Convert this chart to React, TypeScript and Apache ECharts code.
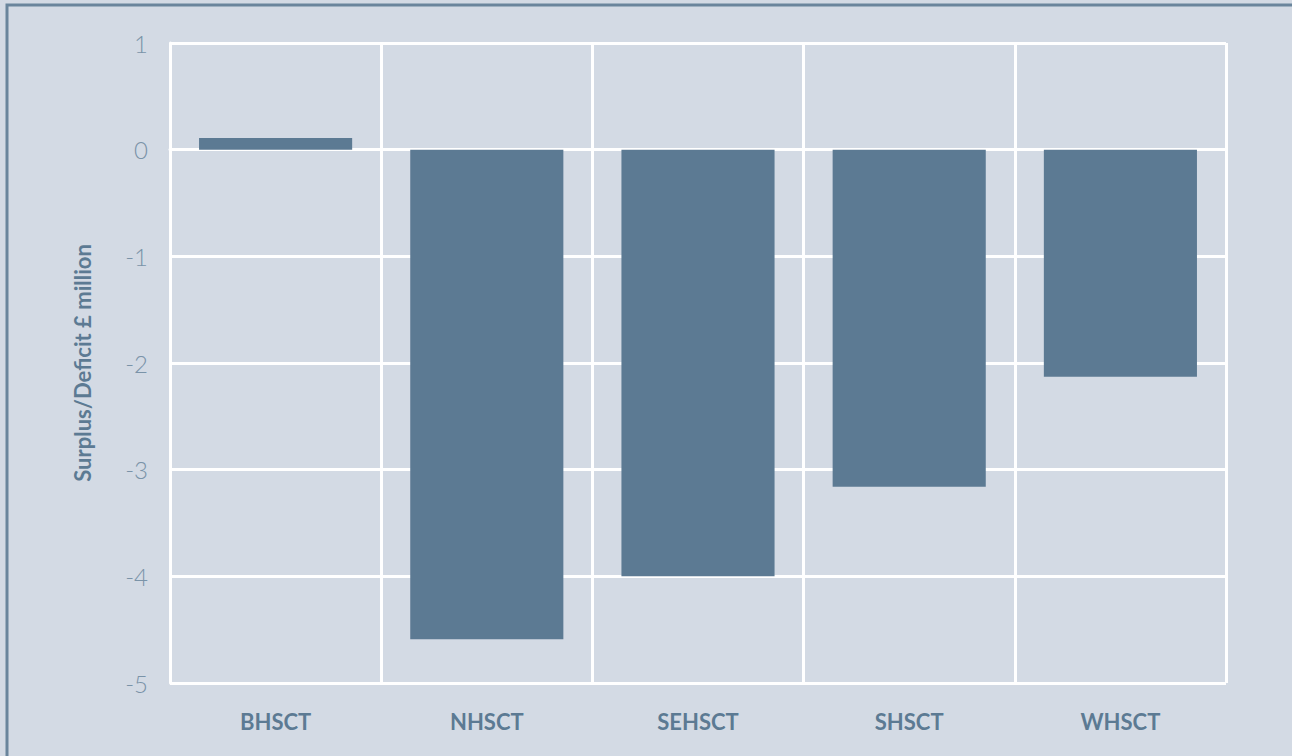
import React, { useEffect, useRef } from "react";
import * as echarts from "echarts";

const categories = ["BHSCT", "NHSCT", "SEHSCT", "SHSCT", "WHSCT"];
const values = [0.11, -4.59, -4.0, -3.16, -2.13];
const yTicks = [-5, -4, -3, -2, -1, 0, 1];

export default function App() {
  const ref = useRef<HTMLDivElement>(null);
  useEffect(() => {
    document.body.style.margin = "0";
    const chart = echarts.init(ref.current!, undefined, { renderer: "svg" });
    chart.setOption({
      animation: false,
      backgroundColor: "#d3dae4",
      graphic: [
        {
          type: "rect",
          shape: { x: 7, y: 5, width: 1300, height: 800 },
          style: { fill: "none", stroke: "#6a859c", lineWidth: 3 },
          z: 100,
        },
      ],
      grid: { left: 170, right: 66, top: 43, bottom: 73 },
      xAxis: {
        type: "category",
        data: categories,
        boundaryGap: true,
        axisLine: { show: true, lineStyle: { color: "#ffffff", width: 3 } },
        axisTick: { show: false },
        splitLine: { show: true, lineStyle: { color: "#ffffff", width: 3 } },
        axisLabel: {
          color: "#5c7a93",
          fontSize: 22,
          fontWeight: "bold",
          fontFamily: "Lato, sans-serif",
          margin: 27,
        },
      },
      yAxis: {
        type: "value",
        min: yTicks[0],
        max: yTicks[yTicks.length - 1],
        interval: 1,
        name: "Surplus/Deficit £ million",
        nameLocation: "middle",
        nameGap: 77,
        nameTextStyle: {
          color: "#5c7a93",
          fontSize: 22,
          fontWeight: "bold",
          fontFamily: "Lato, sans-serif",
        },
        axisLine: { show: true, lineStyle: { color: "#ffffff", width: 3 } },
        axisTick: { show: false },
        splitLine: { show: true, lineStyle: { color: "#ffffff", width: 3 } },
        axisLabel: {
          color: "#7a93a8",
          fontSize: 24,
          fontWeight: 300,
          fontFamily: "Lato, sans-serif",
          margin: 22,
        },
      },
      series: [
        {
          type: "bar",
          data: values,
          barWidth: "72.5%",
          itemStyle: { color: "#5c7a93" },
          z: 3,
        },
      ],
    });
    return () => chart.dispose();
  }, []);
  return <div ref={ref} style={{ width: 1292, height: 756 }} />;
}
